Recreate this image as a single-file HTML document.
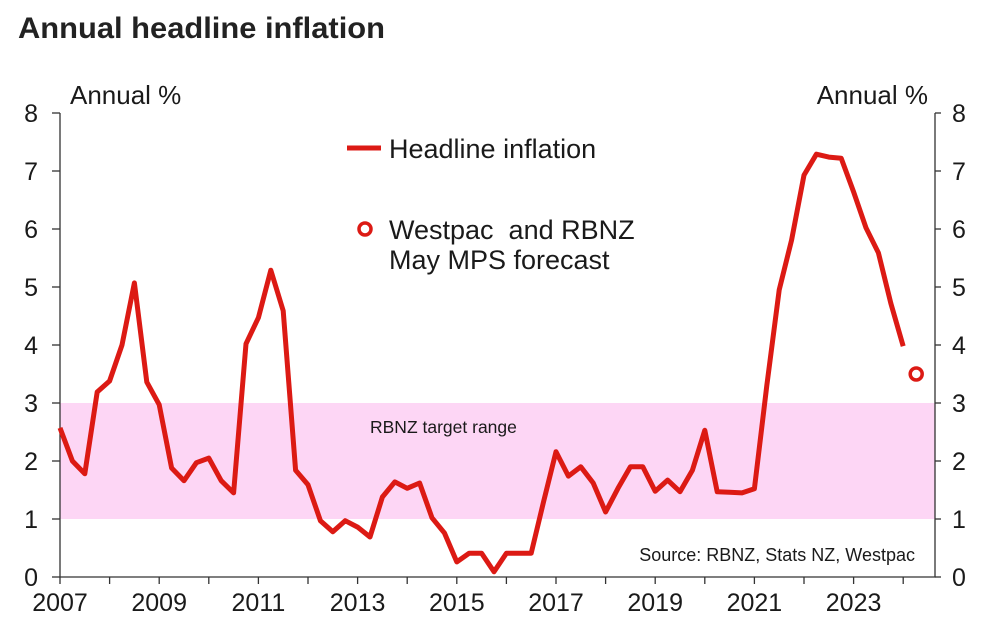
<!DOCTYPE html>
<html><head><meta charset="utf-8"><style>
body{margin:0;background:#fff;width:988px;height:635px;overflow:hidden;font-family:"Liberation Sans",sans-serif}
svg text{font-family:"Liberation Sans",sans-serif;fill:#1a1a1a}
</style></head><body>
<svg id="chart" width="988" height="635" viewBox="0 0 988 635" xmlns="http://www.w3.org/2000/svg">
<text x="18" y="38" font-size="30" font-weight="bold" style="fill:#222" textLength="367" lengthAdjust="spacingAndGlyphs">Annual headline inflation</text>
<g id="plot"></g>
</svg>
<script>
const yTicks=[0,1,2,3,4,5,6,7,8];
const xLabelYears=[2007,2009,2011,2013,2015,2017,2019,2021,2023];
const startYear=2007;
const headline=[2.57,2.0,1.78,3.19,3.38,4.0,5.07,3.36,2.97,1.88,1.66,1.97,2.05,1.66,1.45,4.02,4.47,5.29,4.59,1.84,1.59,0.97,0.78,0.97,0.86,0.69,1.38,1.64,1.53,1.62,1.02,0.76,0.26,0.41,0.41,0.09,0.41,0.41,0.41,1.3,2.16,1.74,1.90,1.62,1.12,1.53,1.90,1.90,1.48,1.67,1.47,1.84,2.53,1.47,1.46,1.45,1.52,3.3,4.95,5.81,6.93,7.29,7.24,7.22,6.64,6.02,5.59,4.72,3.98];
const forecastValue=[3.5];
const targetRange=[1,3];

const L=60,R=935,T=113,B=577;
const x=yr=>L+(yr-2007)*49.6;
const y=v=>B-(v/8)*(B-T);
const NS="http://www.w3.org/2000/svg";
const g=document.getElementById('plot');
function mk(tag,at,parent){const e=document.createElementNS(NS,tag);for(const k in at)e.setAttribute(k,at[k]);(parent||g).appendChild(e);return e;}

let band=mk('rect',{x:L,y:y(targetRange[1]),width:R-L,height:y(targetRange[0])-y(targetRange[1]),fill:'#fdd6f5'});


let bl=mk('text',{x:370,y:433,'font-size':17.5});bl.textContent='RBNZ target range';



let ax=mk('path',{d:`M${L},${T}V${B}H${R}V${T}`,fill:'none',stroke:'#333','stroke-width':1.3});



yTicks.forEach(v=>{
  mk('line',{x1:L-8,x2:L,y1:y(v),y2:y(v),stroke:'#333','stroke-width':1.3});
  mk('line',{x1:R,x2:R+6,y1:y(v),y2:y(v),stroke:'#333','stroke-width':1.3});
  let t=mk('text',{x:38,y:y(v)+9,'font-size':25,'text-anchor':'end'});t.textContent=v;
  
  
  let t2=mk('text',{x:952,y:y(v)+9,'font-size':25});t2.textContent=v;
  
  
});
for(let yr=2007;yr<=2024;yr++){mk('line',{x1:x(yr),x2:x(yr),y1:B,y2:B+7,stroke:'#333','stroke-width':1.3});}
xLabelYears.forEach(yr=>{
  let t=mk('text',{x:x(yr),y:611,'font-size':25,'text-anchor':'middle'});t.textContent=yr;
  
  
});
let al=mk('text',{x:70,y:104,'font-size':26});al.textContent='Annual %';


let ar=mk('text',{x:928,y:104,'font-size':26,'text-anchor':'end'});ar.textContent='Annual %';



let pts=headline.map((v,i)=>`${x(startYear+i/4).toFixed(1)},${y(v).toFixed(1)}`).join(' ');
let line=mk('polyline',{points:pts,fill:'none',stroke:'#dc1a14','stroke-width':5,'stroke-linejoin':'round'});


let fc=mk('circle',{cx:x(startYear+headline.length/4)+0.6,cy:y(forecastValue[0]),r:6,fill:'#fff',stroke:'#dc1a14','stroke-width':3.5});



let lg1=mk('line',{x1:347,x2:381,y1:148,y2:148,stroke:'#dc1a14','stroke-width':5});


let lt1=mk('text',{x:389,y:158,'font-size':27});lt1.textContent='Headline inflation';


let lg2=mk('circle',{cx:365,cy:229,r:6,fill:'#fff',stroke:'#dc1a14','stroke-width':3.5});


let lt2=mk('text',{x:389,y:239,'font-size':27});lt2.textContent='Westpac\u00a0 and RBNZ';


let lt3=mk('text',{x:389,y:269,'font-size':27});lt3.textContent='May MPS forecast';


let src=mk('text',{x:915,y:561,'font-size':18,'text-anchor':'end'});src.textContent='Source: RBNZ, Stats NZ, Westpac';


</script>
</body></html>
